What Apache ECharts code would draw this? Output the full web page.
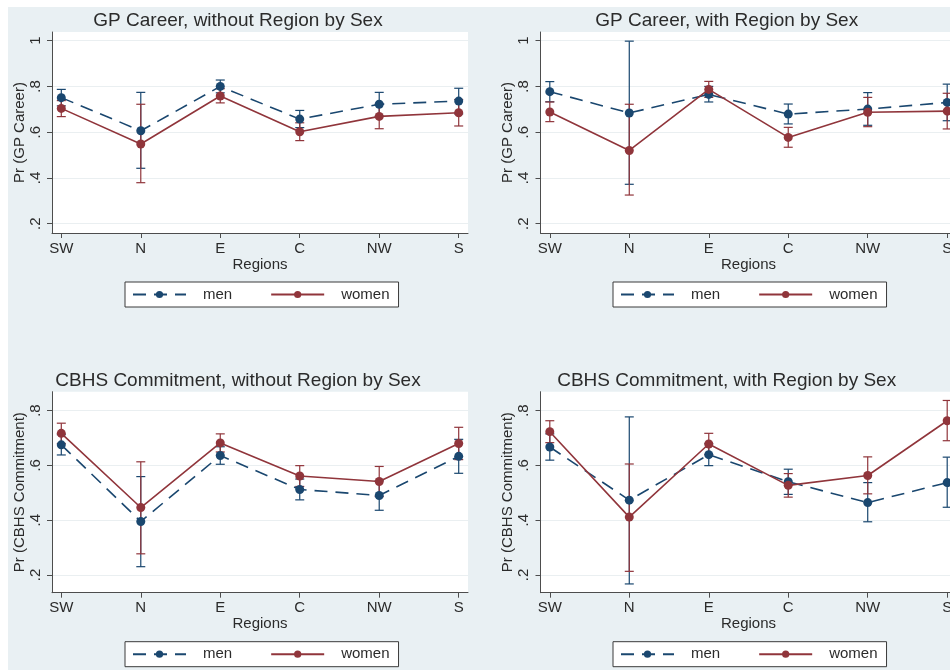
<!DOCTYPE html>
<html><head><meta charset="utf-8">
<script src="https://cdn.jsdelivr.net/npm/echarts@6/dist/echarts.min.js"></script>
<style>html,body{margin:0;padding:0;background:#fff}#c{width:950px;height:670px}</style>
</head><body><div id="c"></div>
<script>
// ---- data ----
const regions = ['SW', 'N', 'E', 'C', 'NW', 'S'];
const seriesNames = ['men', 'women'];
const xName = 'Regions';
const titles = [
  'GP Career, without Region by Sex',
  'GP Career, with Region by Sex',
  'CBHS Commitment, without Region by Sex',
  'CBHS Commitment, with Region by Sex'
];
const yNames = ['Pr (GP Career)', 'Pr (GP Career)', 'Pr (CBHS Commitment)', 'Pr (CBHS Commitment)'];
const yTicksGP = [0.2, 0.4, 0.6, 0.8, 1];
const yTicksCBHS = [0.2, 0.4, 0.6, 0.8];

// Panel 1: GP Career, without Region by Sex
const menGP1 = [0.751, 0.606, 0.800, 0.657, 0.722, 0.736];
const menGP1Lo = [0.715, 0.442, 0.772, 0.620, 0.670, 0.680];
const menGP1Hi = [0.787, 0.774, 0.828, 0.695, 0.774, 0.792];
const womenGP1 = [0.704, 0.548, 0.758, 0.602, 0.669, 0.685];
const womenGP1Lo = [0.668, 0.379, 0.728, 0.563, 0.615, 0.627];
const womenGP1Hi = [0.738, 0.722, 0.790, 0.641, 0.722, 0.743];

// Panel 2: GP Career, with Region by Sex
const menGP2 = [0.777, 0.684, 0.765, 0.679, 0.701, 0.730];
const menGP2Lo = [0.733, 0.372, 0.732, 0.636, 0.630, 0.650];
const menGP2Hi = [0.821, 0.998, 0.800, 0.723, 0.773, 0.810];
const womenGP2 = [0.688, 0.520, 0.787, 0.577, 0.687, 0.692];
const womenGP2Lo = [0.646, 0.325, 0.752, 0.534, 0.624, 0.614];
const womenGP2Hi = [0.732, 0.722, 0.822, 0.621, 0.752, 0.770];

// Panel 3: CBHS Commitment, without Region by Sex
const menCB1 = [0.675, 0.395, 0.636, 0.512, 0.490, 0.633];
const menCB1Lo = [0.638, 0.230, 0.604, 0.474, 0.436, 0.571];
const menCB1Hi = [0.712, 0.559, 0.668, 0.550, 0.544, 0.695];
const womenCB1 = [0.717, 0.446, 0.682, 0.561, 0.541, 0.680];
const womenCB1Lo = [0.680, 0.277, 0.649, 0.523, 0.486, 0.621];
const womenCB1Hi = [0.754, 0.613, 0.715, 0.599, 0.596, 0.739];

// Panel 4: CBHS Commitment, with Region by Sex
const menCB2 = [0.667, 0.473, 0.639, 0.540, 0.464, 0.537];
const menCB2Lo = [0.619, 0.167, 0.599, 0.494, 0.394, 0.447];
const menCB2Hi = [0.715, 0.777, 0.679, 0.586, 0.537, 0.630];
const womenCB2 = [0.723, 0.411, 0.678, 0.527, 0.563, 0.763];
const womenCB2Lo = [0.683, 0.213, 0.639, 0.484, 0.496, 0.690];
const womenCB2Hi = [0.763, 0.605, 0.717, 0.570, 0.631, 0.837];

// ---- layout / style ----
const FONT = '"Liberation Sans", Arial, sans-serif';
const MEN_C = '#1a476f', WOMEN_C = '#90353b';
const AXIS_C = '#4d4d4d', TXT_C = '#2b2b2b';
const panels = [
  {left: 52, top: 32, ymin: 0.159, ymax: 1.038, ticks: yTicksGP, cx: 238, ty: 20.5, lx: 125, ly: 282,
   men: [menGP1, menGP1Lo, menGP1Hi], women: [womenGP1, womenGP1Lo, womenGP1Hi]},
  {left: 540.5, top: 32, ymin: 0.159, ymax: 1.038, ticks: yTicksGP, cx: 726.7, ty: 20.5, lx: 613, ly: 282,
   men: [menGP2, menGP2Lo, menGP2Hi], women: [womenGP2, womenGP2Lo, womenGP2Hi]},
  {left: 52, top: 391.7, ymin: 0.135, ymax: 0.869, ticks: yTicksCBHS, cx: 238, ty: 380.5, lx: 125, ly: 641.7,
   men: [menCB1, menCB1Lo, menCB1Hi], women: [womenCB1, womenCB1Lo, womenCB1Hi]},
  {left: 540.5, top: 391.7, ymin: 0.135, ymax: 0.869, ticks: yTicksCBHS, cx: 726.7, ty: 380.5, lx: 613, ly: 641.7,
   men: [menCB2, menCB2Lo, menCB2Hi], women: [womenCB2, womenCB2Lo, womenCB2Hi]}
];
const GRID_W = 416, GRID_H = 201;
const catIdx = regions.map((_, i) => i);

function yFmt(v) {
  if (Math.abs(v - 1) < 1e-9) return '1';
  return '.' + Math.round(v * 10);
}

function errRender(color) {
  return function (params, api) {
    const x = api.value(0), lo = api.value(1), hi = api.value(2);
    const a = api.coord([x, hi]), b = api.coord([x, lo]);
    const w = 4.5;
    const st = {stroke: color, lineWidth: 1.2};
    return {type: 'group', children: [
      {type: 'line', shape: {x1: a[0], y1: a[1], x2: b[0], y2: b[1]}, style: st},
      {type: 'line', shape: {x1: a[0] - w, y1: a[1], x2: a[0] + w, y2: a[1]}, style: st},
      {type: 'line', shape: {x1: b[0] - w, y1: b[1], x2: b[0] + w, y2: b[1]}, style: st}
    ]};
  };
}

const grid = [], xAxis = [], yAxis = [], series = [], legend = [];
const graphic = [{type: 'rect', z: -100, silent: true, shape: {x: 8, y: 7, width: 942, height: 663}, style: {fill: '#e9f0f3'}}];

panels.forEach((p, k) => {
  grid.push({left: p.left, top: p.top, width: GRID_W, height: GRID_H, show: true, backgroundColor: '#ffffff', borderWidth: 0,
             outerBoundsMode: 'none', containLabel: false});
  xAxis.push({
    type: 'value', gridIndex: k, min: -0.117, max: 5.117,
    name: xName, nameLocation: 'middle', nameGap: 24,
    nameTextStyle: {fontFamily: FONT, fontSize: 15, color: TXT_C},
    axisLine: {show: true, onZero: false, lineStyle: {color: AXIS_C, width: 1}},
    axisTick: {show: true, length: 5, customValues: catIdx, lineStyle: {color: AXIS_C}},
    axisLabel: {customValues: catIdx, formatter: v => regions[Math.round(v)], fontFamily: FONT, fontSize: 15, color: TXT_C, margin: 8},
    splitLine: {show: false}
  });
  yAxis.push({
    type: 'value', gridIndex: k, min: p.ymin, max: p.ymax,
    name: yNames[k], nameLocation: 'middle', nameGap: 25,
    nameTextStyle: {fontFamily: FONT, fontSize: 15, color: TXT_C},
    axisLine: {show: true, onZero: false, lineStyle: {color: AXIS_C, width: 1}},
    axisTick: {show: true, length: 5, customValues: p.ticks, lineStyle: {color: AXIS_C}},
    axisLabel: {customValues: p.ticks, formatter: yFmt, rotate: 90, fontFamily: FONT, fontSize: 15, color: TXT_C, margin: 9},
    splitLine: {show: true, lineStyle: {color: '#eaeff1', width: 1}}
  });
  const groups = [[p.men, MEN_C, [13, 8]], [p.women, WOMEN_C, 'solid']];
  groups.forEach(([arr, color], j) => {
    series.push({
      type: 'custom', name: seriesNames[j] + ' CI', xAxisIndex: k, yAxisIndex: k,
      renderItem: errRender(color), silent: true, z: 1,
      data: catIdx.map(i => [i, arr[1][i], arr[2][i]])
    });
  });
  groups.forEach(([arr, color, dash], j) => {
    series.push({
      type: 'line', name: seriesNames[j], xAxisIndex: k, yAxisIndex: k, z: 3 + j,
      symbol: 'circle', symbolSize: 9, showSymbol: true,
      lineStyle: {color: color, width: 1.6, type: dash},
      itemStyle: {color: color},
      data: catIdx.map(i => [i, arr[0][i]]),
      animation: false
    });
  });
  legend.push({
    left: p.lx, top: p.ly, orient: 'horizontal', data: seriesNames,
    itemWidth: 53, itemHeight: 9, itemGap: 38,
    padding: [5, 9, 5, 7], borderColor: '#3a3a3a', borderWidth: 1, backgroundColor: '#ffffff',
    textStyle: {fontFamily: FONT, fontSize: 15, color: TXT_C, lineHeight: 15, padding: [0, 0, 0, 12]},
    selectedMode: false
  });
  graphic.push({type: 'text', x: p.cx, y: p.ty, silent: true,
    style: {text: titles[k], textAlign: 'center', textVerticalAlign: 'middle', fontFamily: FONT, fontSize: 19, fill: TXT_C}});
});

const chart = echarts.init(document.getElementById('c'), null, {renderer: 'canvas'});
chart.setOption({animation: false, backgroundColor: '#ffffff', grid, xAxis, yAxis, series, legend, graphic});
</script></body></html>
